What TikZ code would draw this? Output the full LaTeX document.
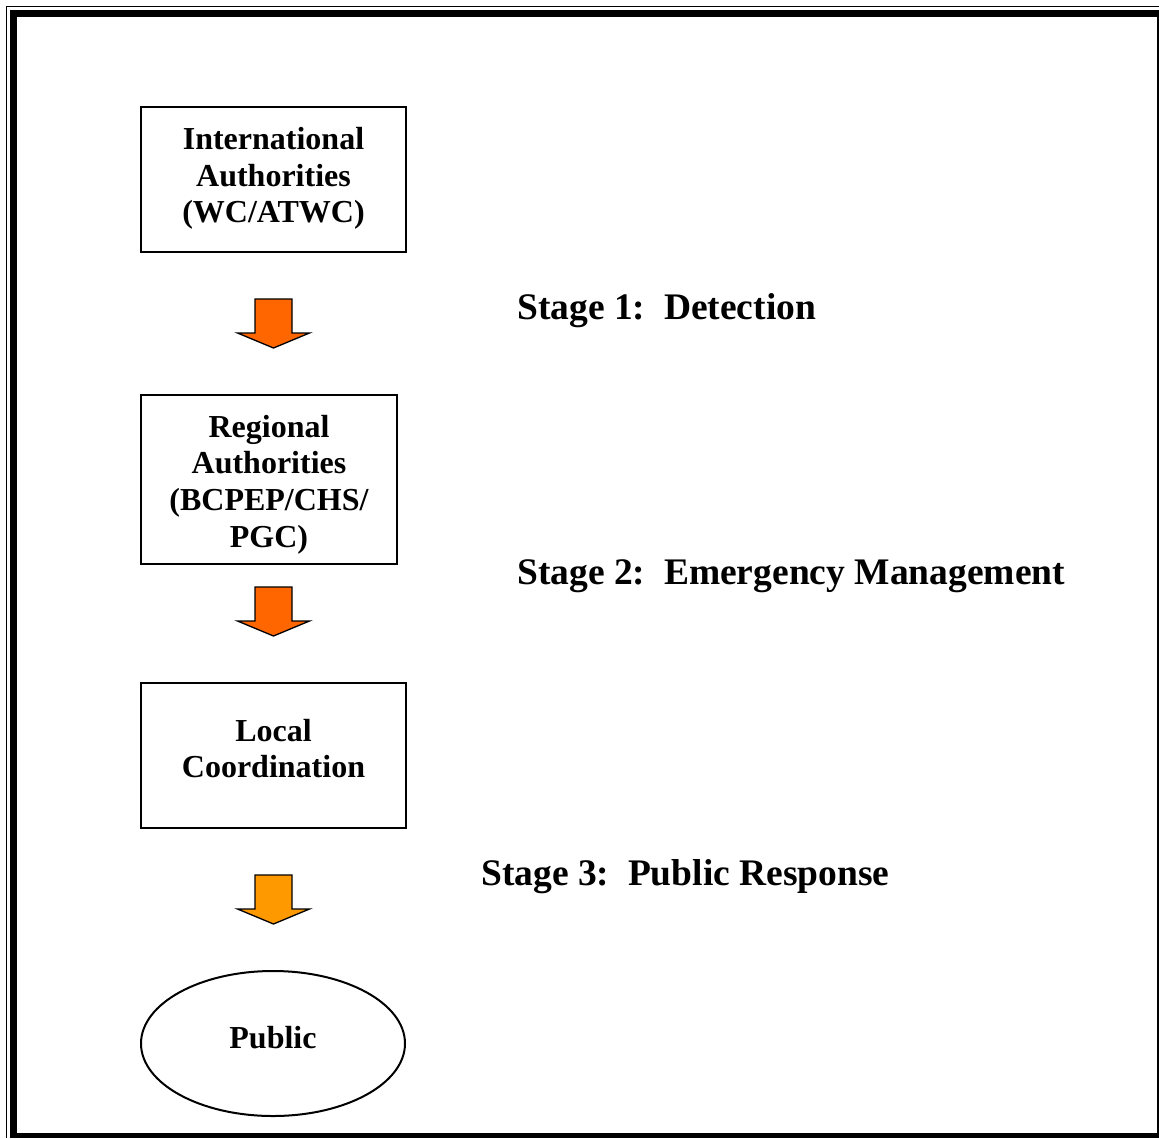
\documentclass[tikz,border=0pt]{standalone}
\usepackage{fontspec}
\setmainfont{Liberation Serif}
\usetikzlibrary{shapes.geometric}
\definecolor{arrA}{HTML}{FF6600}
\definecolor{arrB}{HTML}{FF9900}
\tikzset{
  boxnode/.style={draw=black, line width=2pt, rectangle, inner sep=0pt},
  ovalnode/.style={draw=black, line width=2pt, ellipse, inner sep=0pt},
  boxtext/.style={inner sep=0pt, align=center, font=\fontsize{32}{36.6}\selectfont\bfseries},
  stagetext/.style={anchor=base west, inner sep=0pt, font=\fontsize{37.5}{44}\selectfont\bfseries},
  downarrow/.style={draw=black, line width=1.3pt, line join=miter}
}
\newcommand{\dnarrow}[3]{% x, ytop, colour
  \filldraw[downarrow, fill=#3] (#1-18.5,#2) -- (#1+18.5,#2) -- (#1+18.5,#2+34) -- (#1+36,#2+34)
    -- (#1,#2+49) -- (#1-36,#2+34) -- (#1-18.5,#2+34) -- cycle;}
\begin{document}
\begin{tikzpicture}[x=1pt, y=-1pt]
\useasboundingbox (0,0) rectangle (1159,1138);
% page border
\draw[line width=1.6pt] (6.5,1138) -- (6.5,6.5) -- (1159,6.5);
\draw[line width=7pt] (13.5,1138) -- (13.5,13.5) -- (1159,13.5);
\draw[line width=2pt] (1158,17) -- (1158,1138);
\draw[line width=5pt] (10,1135.5) -- (1159,1135.5);
% boxes
\node[boxnode, minimum width=265pt, minimum height=145pt] (intl) at (273.5,179.5) {};
\node[boxtext] (intlT) at ([yshift=1pt]intl.center) {International\\Authorities\\(WC/ATWC)};
\node[boxnode, minimum width=256pt, minimum height=169pt] (reg) at (269,479.5) {};
\node[boxtext] (regT) at ([yshift=-5pt]reg.center) {Regional\\Authorities\\(BCPEP/CHS/\\PGC)};
\node[boxnode, minimum width=265pt, minimum height=145pt] (loc) at (273.5,755.5) {};
\node[boxtext] (locT) at ([yshift=7pt]loc.center) {Local\\Coordination};
\node[ovalnode, minimum width=264pt, minimum height=145pt] (pub) at (273,1043.5) {};
\node[boxtext] (pubT) at ([yshift=6pt]pub.center) {Public};
% arrows
\dnarrow{273.5}{299}{arrA}
\dnarrow{273.5}{587}{arrA}
\dnarrow{273.5}{875}{arrB}
% stage labels
\node[stagetext] (s1) at (517,319) {Stage 1:\ \ Detection};
\node[stagetext] (s2) at (517,584) {Stage 2:\ \ Emergency Management};
\node[stagetext] (s3) at (481,885) {Stage 3:\ \ Public Response};
\end{tikzpicture}
\end{document}
